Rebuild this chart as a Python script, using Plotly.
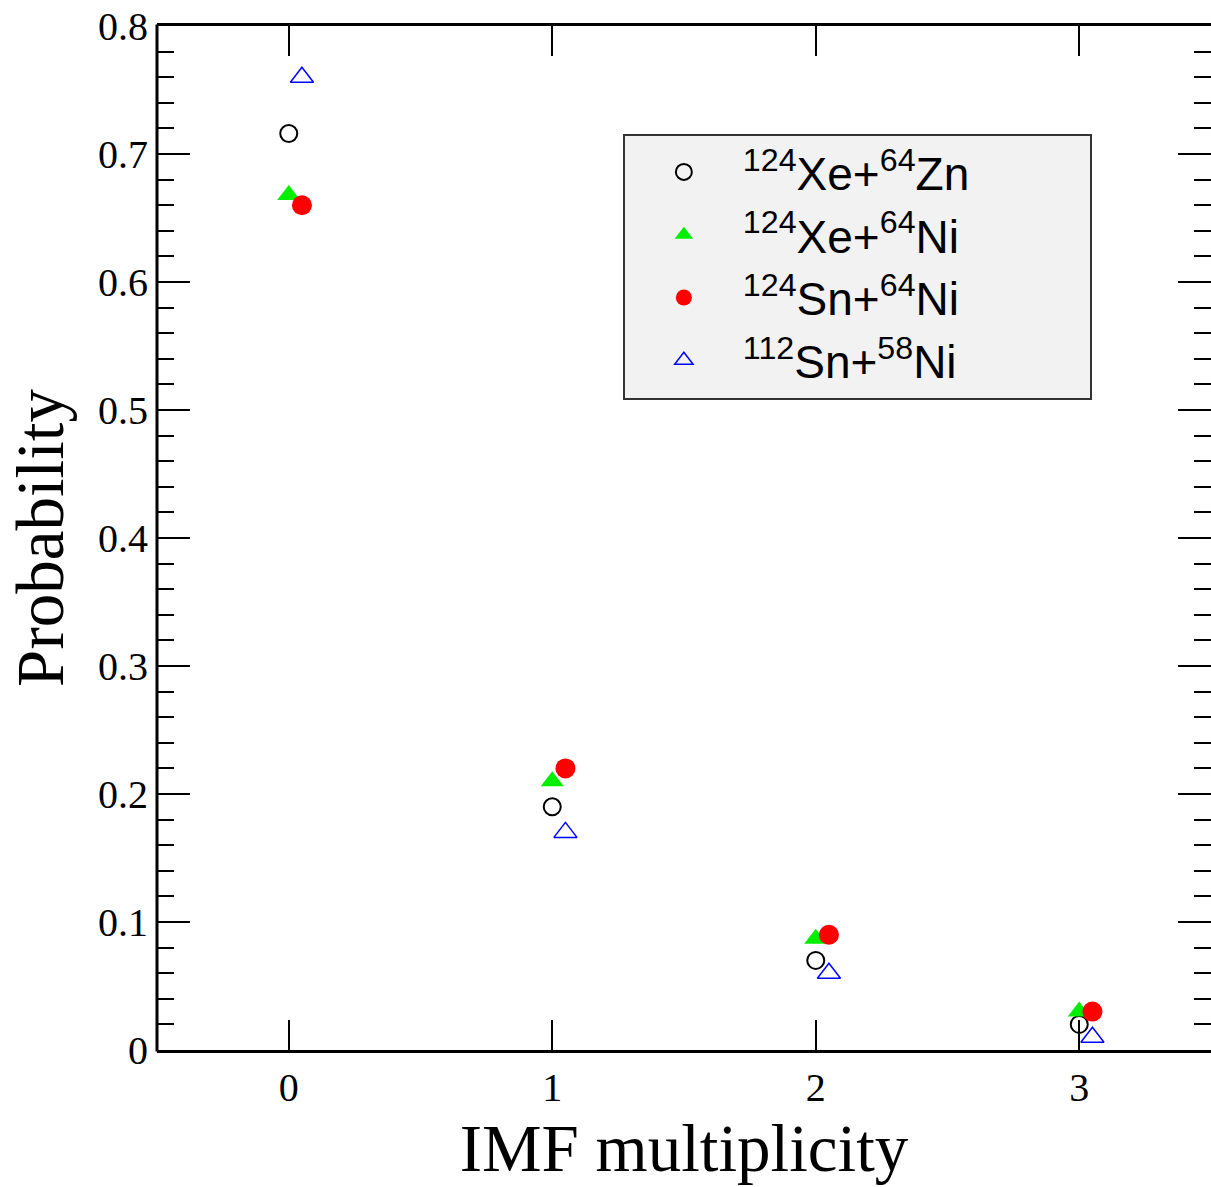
import plotly.graph_objects as go

multiplicity = [0, 1, 2, 3]
offset_b = [0.05, 1.05, 2.05, 3.05]

xe_zn = [0.716, 0.19, 0.07, 0.02]
xe_ni = [0.668, 0.21, 0.087, 0.03]
sn_ni = [0.66, 0.22, 0.09, 0.03]
sn112_ni58 = [0.76, 0.17, 0.06, 0.01]

pad = "&nbsp;" * 9
names = [
    "<sup>124</sup>Xe+<sup>64</sup>Zn" + pad,
    "<sup>124</sup>Xe+<sup>64</sup>Ni" + pad,
    "<sup>124</sup>Sn+<sup>64</sup>Ni" + pad,
    "<sup>112</sup>Sn+<sup>58</sup>Ni" + pad,
]

fig = go.Figure()
fig.add_trace(go.Scatter(x=multiplicity, y=xe_zn, mode="markers", name=names[0], legendgroup="a",
                         marker=dict(symbol="circle-open", size=17, color="black", line=dict(width=2, color="black"))))
fig.add_trace(go.Scatter(x=multiplicity, y=xe_ni, mode="markers", name=names[1], legendgroup="b",
                         marker=dict(symbol="triangle-up", size=20, color="#00ee00", line=dict(width=0))))
fig.add_trace(go.Scatter(x=offset_b, y=sn_ni, mode="markers", name=names[2], legendgroup="c",
                         marker=dict(symbol="circle", size=20, color="#ff0000", line=dict(width=0))))
fig.add_trace(go.Scatter(x=offset_b, y=sn112_ni58, mode="markers", name=names[3], legendgroup="d",
                         marker=dict(symbol="triangle-up-open", size=20, color="#0000ff", line=dict(width=1.5, color="#0000ff"))))

fig.update_layout(
    width=1211, height=1187,
    margin=dict(l=157, r=0, t=26, b=137),
    paper_bgcolor="white", plot_bgcolor="white",
    showlegend=True,
    legend=dict(
        x=0.442, y=0.895, xanchor="left", yanchor="top",
        bgcolor="#f2f2f2", bordercolor="#333333", borderwidth=2,
        font=dict(family="Liberation Sans", size=46, color="black"),
        tracegroupgap=0, itemwidth=108,
    ),
    xaxis=dict(
        range=[-0.5, 3.5], tickmode="array", tickvals=multiplicity, ticktext=[str(v) for v in multiplicity],
        ticks="inside", ticklen=30, tickwidth=2, tickcolor="black",
        showline=True, linewidth=3, linecolor="black", mirror="allticks",
        showgrid=False, zeroline=False,
        tickfont=dict(family="Liberation Serif", size=40, color="black"),
        title=dict(text="IMF multiplicity", font=dict(family="Liberation Serif", size=67, color="black"), standoff=16),
    ),
    yaxis=dict(
        range=[0, 0.8], dtick=0.1, tick0=0,
        ticks="inside", ticklen=33, tickwidth=2, tickcolor="black",
        minor=dict(ticks="inside", ticklen=17, tickwidth=2, dtick=0.02, tickcolor="black", showgrid=False),
        showline=False, mirror="ticks", ticklabelstandoff=8,
        showgrid=False, zeroline=False,
        tickfont=dict(family="Liberation Serif", size=40, color="black"),
        title=dict(text="Probability", font=dict(family="Liberation Serif", size=67, color="black"), standoff=12),
    ),
    shapes=[dict(type="line", xref="paper", yref="paper", x0=0, x1=0, y0=-0.0015, y1=1.0015,
                 line=dict(color="black", width=3), layer="above")],
)

fig.write_html("out.html")
